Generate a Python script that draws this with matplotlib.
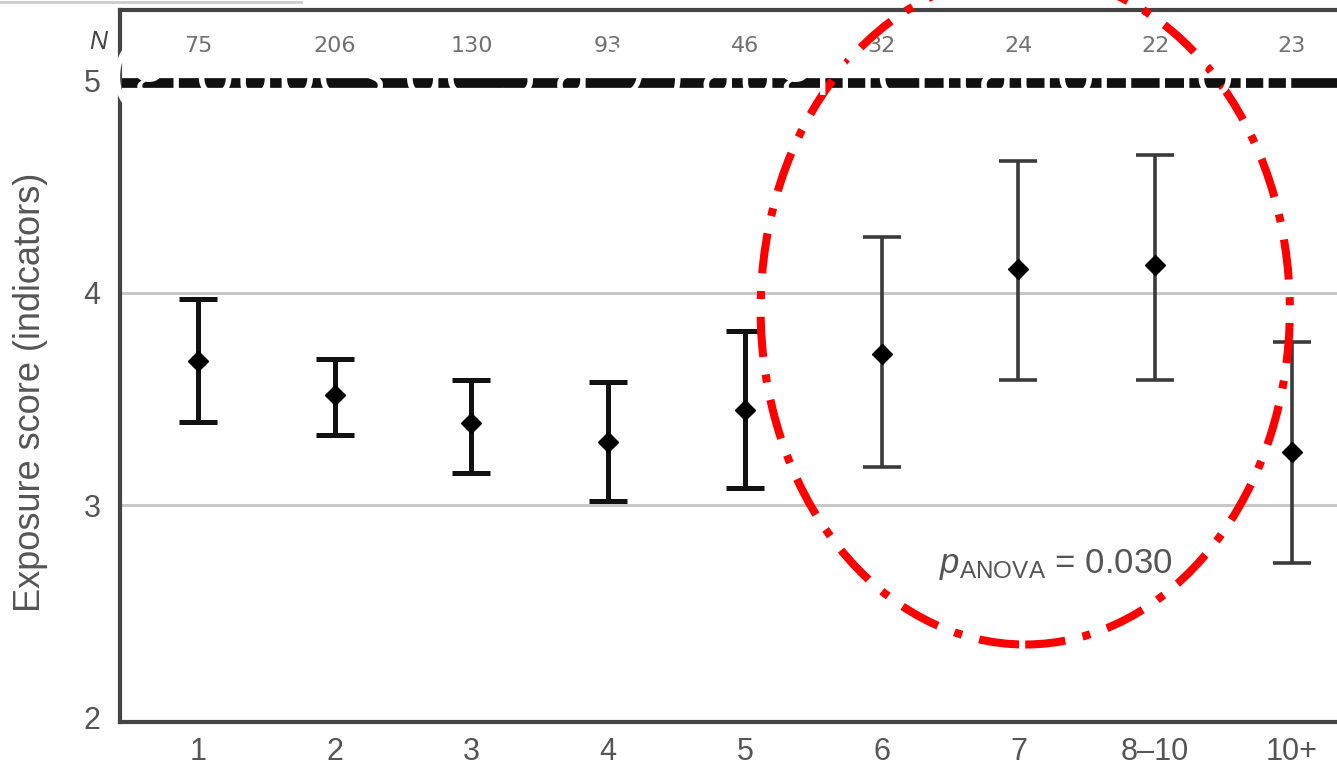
import matplotlib
matplotlib.use('Agg')
import matplotlib.pyplot as plt
from matplotlib.patches import Ellipse

plt.rcParams['font.family'] = ['Liberation Sans', 'DejaVu Sans']
plt.rcParams['mathtext.fontset'] = 'custom'
plt.rcParams['mathtext.rm'] = 'Liberation Sans'
plt.rcParams['mathtext.it'] = 'Liberation Sans:italic'

# data
groups = ['1', '2', '3', '4', '5', '6', '7', '8\u201310', '10+']
n_counts = ['75', '206', '130', '93', '46', '32', '24', '22', '23']
means = [3.68, 3.52, 3.385, 3.30, 3.45, 3.71, 4.11, 4.13, 3.25]
upper = [3.97, 3.69, 3.59, 3.58, 3.82, 4.26, 4.62, 4.65, 3.77]
lower = [3.39, 3.33, 3.15, 3.02, 3.08, 3.18, 3.59, 3.59, 2.73]
y_ticks = [2, 3, 4, 5]
overlay_text = '(groupes de 5 \u00e0 9 ) augmentation nom'

fig = plt.figure(figsize=(13.37, 7.69), dpi=100)
ax = fig.add_axes([0.0897, 0.061, 1.03, 0.926])

xs = list(range(1, len(groups) + 1))
grey = '#555555'

# gridlines
for yv in [3, 4]:
    ax.axhline(yv, color='#c8c8c8', lw=2.2, zorder=1)
ax.axhline(4.985, color='#111111', lw=7, zorder=2)

# error bars: the first five darker and thicker
for i, x in enumerate(xs):
    heavy = i < 5
    col = '#111111' if heavy else '#3a3a3a'
    lw = 3.6 if heavy else 2.6
    ax.errorbar([x], [means[i]],
                yerr=[[means[i] - lower[i]], [upper[i] - means[i]]],
                fmt='D', color=col, ecolor=col, elinewidth=lw,
                capsize=14, capthick=lw, markersize=10,
                markerfacecolor='black', markeredgecolor='black', zorder=4)

ax.set_xlim(0.43, 10.5)
ax.set_ylim(1.98, 5.33)
ax.set_xticks(xs)
ax.set_xticklabels(groups)
ax.set_yticks(y_ticks)
ax.tick_params(length=0, labelsize=22, colors=grey)
ax.tick_params(axis='x', labelsize=22, pad=11)
ax.tick_params(axis='y', pad=14)

for s in ax.spines.values():
    s.set_color('#444444')
    s.set_linewidth(3)

ax.set_ylabel('Exposure score (indicators)', fontsize=26, color=grey)
ax.yaxis.set_label_coords(-0.052, 0.463)

# N row on top
for x, n in zip(xs, n_counts):
    ax.text(x, 5.16, n, ha='center', va='center', fontsize=16,
            family='DejaVu Sans', color='#707070')
ax.text(0.27, 5.18, 'N', ha='center', va='center', fontsize=18,
        style='italic', color='#444444', clip_on=False)

ax.text(7.27, 2.72, r'$p_{\mathrm{ANOVA}}$ = 0.030', ha='center', va='center',
        fontsize=25, color=grey)

# red dash-dot ellipse annotation
ell = Ellipse((7.05, 3.92), width=3.87, height=3.15, fill=False,
              edgecolor='red', lw=5.8, linestyle=(0, (5, 2.2, 1, 2.2)),
              zorder=6, clip_on=False)
ax.add_patch(ell)

# white overlay text
fig.text(0.084, 0.876, overlay_text, color='white', fontsize=48,
         family='Open Sans', ha='left', va='baseline', zorder=10)

# thin grey line at the very top left
fig.add_artist(plt.Line2D([0, 0.225], [0.998, 0.998], color='#cccccc', lw=2,
                          transform=fig.transFigure))

fig.savefig('out.png', dpi=100)
